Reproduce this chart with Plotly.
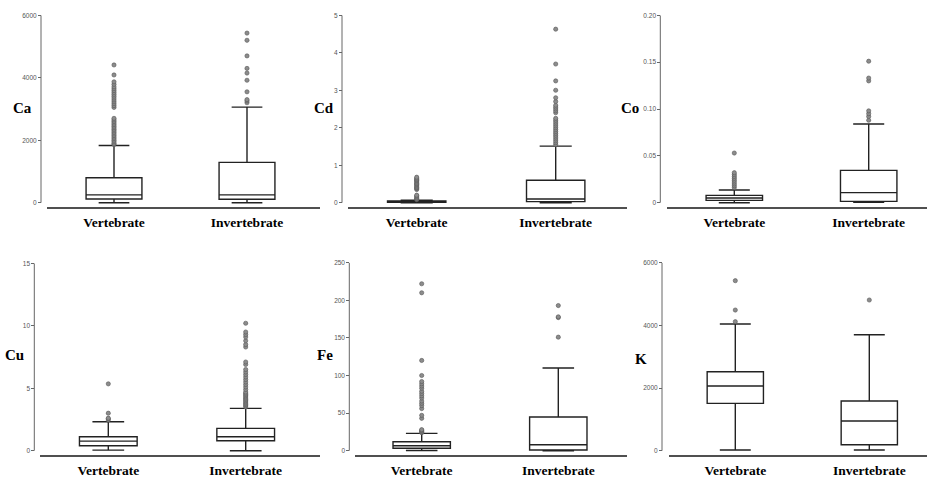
import plotly.graph_objects as go

W, H = 927, 477
groups = ["Vertebrate", "Invertebrate"]
elements = ["Ca", "Cd", "Co", "Cu", "Fe", "K"]

# Box statistics per element: [Vertebrate, Invertebrate]
ca_q1 = [120, 110]; ca_med = [250, 250]; ca_q3 = [800, 1290]; ca_lo = [0, 0]; ca_hi = [1830, 3060]
cd_q1 = [0.01, 0.03]; cd_med = [0.03, 0.10]; cd_q3 = [0.05, 0.60]; cd_lo = [0, 0]; cd_hi = [0.07, 1.51]
co_q1 = [0.0025, 0.0014]; co_med = [0.005, 0.0107]; co_q3 = [0.0078, 0.0345]; co_lo = [0, 0.0005]; co_hi = [0.0136, 0.084]
cu_q1 = [0.40, 0.80]; cu_med = [0.77, 1.12]; cu_q3 = [1.12, 1.79]; cu_lo = [0.05, 0]; cu_hi = [2.32, 3.39]
fe_q1 = [3.2, 0.9]; fe_med = [6.5, 8]; fe_q3 = [12, 44.8]; fe_lo = [0.3, 0]; fe_hi = [23, 110]
k_q1 = [1511, 191]; k_med = [2064, 947]; k_q3 = [2521, 1585]; k_lo = [21, 21]; k_hi = [4043, 3702]

# Outliers
ca_out_v = [1860, 1900, 1950, 2000, 2050, 2100, 2150, 2200, 2250, 2300, 2350, 2400, 2450, 2500,
            2550, 2600, 2650, 2700, 3050, 3110, 3170, 3230, 3290, 3350, 3410, 3470, 3530, 3590,
            3650, 3710, 3790, 3870, 4090, 4410]
ca_out_i = [3200, 3260, 3300, 3550, 3920, 4150, 4300, 4700, 5200, 5430]
cd_out_v = [0.08, 0.10, 0.12, 0.15, 0.18, 0.20, 0.35, 0.38, 0.40, 0.42, 0.45, 0.48, 0.50, 0.52,
            0.55, 0.58, 0.60, 0.62, 0.65, 0.68]
cd_out_i = [1.55, 1.60, 1.65, 1.70, 1.75, 1.80, 1.85, 1.90, 1.95, 2.00, 2.05, 2.10, 2.15, 2.20,
            2.25, 2.40, 2.45, 2.50, 2.55, 2.60, 2.70, 2.80, 3.00, 3.25, 3.70, 4.63]
co_out_v = [0.016, 0.018, 0.020, 0.022, 0.024, 0.026, 0.028, 0.030, 0.032, 0.053]
co_out_i = [0.088, 0.092, 0.095, 0.098, 0.130, 0.133, 0.151]
cu_out_v = [2.45, 2.55, 2.60, 3.00, 5.35]
cu_out_i = [3.5, 3.6, 3.7, 3.8, 3.9, 4.0, 4.1, 4.2, 4.3, 4.4, 4.5, 4.6, 4.7, 4.9, 5.1, 5.3, 5.5,
            5.7, 5.9, 6.1, 6.3, 6.5, 6.9, 7.1, 8.3, 8.5, 8.8, 9.1, 9.3, 9.5, 10.2]
fe_out_v = [24, 25, 26, 27, 28, 43, 47, 56, 60, 63, 66, 70, 73, 76, 79, 83, 86, 89, 92, 100,
            120, 210, 222]
fe_out_i = [151, 177, 178, 193]
k_out_v = [4117, 4489, 5426]
k_out_i = [4809]

# Axis ticks
ca_ticks = [0, 2000, 4000, 6000]; ca_ticktext = ["0", "2000", "4000", "6000"]
cd_ticks = [0, 1, 2, 3, 4, 5]; cd_ticktext = ["0", "1", "2", "3", "4", "5"]
co_ticks = [0, 0.05, 0.10, 0.15, 0.20]; co_ticktext = ["0", "0.05", "0.10", "0.15", "0.20"]
cu_ticks = [0, 5, 10, 15]; cu_ticktext = ["0", "5", "10", "15"]
fe_ticks = [0, 50, 100, 150, 200, 250]; fe_ticktext = ["0", "50", "100", "150", "200", "250"]
k_ticks = [0, 2000, 4000, 6000]; k_ticktext = ["0", "2000", "4000", "6000"]
y_max = [6000, 5, 0.20, 15, 250, 6000]

stats = [
    (ca_q1, ca_med, ca_q3, ca_lo, ca_hi, ca_out_v, ca_out_i, ca_ticks, ca_ticktext),
    (cd_q1, cd_med, cd_q3, cd_lo, cd_hi, cd_out_v, cd_out_i, cd_ticks, cd_ticktext),
    (co_q1, co_med, co_q3, co_lo, co_hi, co_out_v, co_out_i, co_ticks, co_ticktext),
    (cu_q1, cu_med, cu_q3, cu_lo, cu_hi, cu_out_v, cu_out_i, cu_ticks, cu_ticktext),
    (fe_q1, fe_med, fe_q3, fe_lo, fe_hi, fe_out_v, fe_out_i, fe_ticks, fe_ticktext),
    (k_q1, k_med, k_q3, k_lo, k_hi, k_out_v, k_out_i, k_ticks, k_ticktext),
]

# Layout geometry in pixels: y-axis x, x-line start, x-line end, vert centre, invert centre,
# top of y-range, zero pixel, x-line pixel, label x, label y
geom = [
    (41.0, 47, 320, 114.0, 247.0, 15.3, 202.7, 207.3, 22, 108),
    (342.0, 348, 627, 416.7, 555.7, 15.3, 202.7, 207.3, 324, 108),
    (660.3, 667, 927, 734.3, 868.7, 15.3, 202.7, 207.3, 630, 108),
    (34.3, 40, 320, 108.3, 245.7, 263.3, 450.7, 455.0, 15, 355),
    (349.3, 355, 627, 421.7, 558.3, 262.7, 450.7, 455.0, 324.5, 355),
    (662.0, 668.7, 927, 735.3, 869.3, 262.7, 450.7, 455.0, 641, 359),
]

fig = go.Figure()
layout = dict(width=W, height=H, margin=dict(l=0, r=0, t=0, b=0, autoexpand=False),
              plot_bgcolor="white", paper_bgcolor="white", showlegend=False)
shapes = []
annotations = []

for i, (el, st, g, ymax) in enumerate(zip(elements, stats, geom, y_max), start=1):
    q1, med, q3, lo, hi, ov, oi, tv, tt = st
    yx, x0, x1, xv, xi, ptop, pzero, pline, lx, ly = g
    xr = "x" if i == 1 else f"x{i}"
    yr = "y" if i == 1 else f"y{i}"
    ppu = (pzero - ptop) / ymax
    ymin = -(pline - pzero) / ppu
    p = xi - xv
    xrange = [-(xv - x0) / p, 1 + (x1 - xi) / p]

    fig.add_trace(go.Box(
        x=groups, q1=q1, median=med, q3=q3, lowerfence=lo, upperfence=hi,
        boxpoints=False, width=0.42, whiskerwidth=0.55, fillcolor="white",
        line=dict(color="#222222", width=1.4), xaxis=xr, yaxis=yr, hoverinfo="skip"))
    fig.add_trace(go.Scatter(
        x=[groups[0]] * len(ov) + [groups[1]] * len(oi), y=ov + oi, mode="markers",
        marker=dict(symbol="circle", size=4.2, color="#8c8c8c",
                    line=dict(color="#555555", width=0.6)),
        xaxis=xr, yaxis=yr, hoverinfo="skip"))

    xname = "xaxis" if i == 1 else f"xaxis{i}"
    yname = "yaxis" if i == 1 else f"yaxis{i}"
    layout[xname] = dict(
        domain=[x0 / W, min(x1 / W, 1)], anchor=yr, type="category",
        categoryorder="array", categoryarray=groups, range=xrange, automargin=False,
        showline=True, linecolor="#505050", linewidth=1.5, ticks="",
        showgrid=False, zeroline=False, ticklabelstandoff=2,
        tickfont=dict(family="Liberation Serif", size=13.5, color="black", weight="bold"))
    layout[yname] = dict(
        domain=[1 - pline / H, 1 - ptop / H], anchor="free", position=yx / W,
        range=[ymin, ymax], tickvals=tv, ticktext=tt, ticks="outside", ticklen=3,
        tickwidth=1, tickcolor="#666666", showline=False, showgrid=False, zeroline=False,
        automargin=False,
        tickfont=dict(family="Liberation Sans", size=6.5, color="#555555"))
    shapes.append(dict(type="line", xref="paper", yref=yr, x0=yx / W, x1=yx / W,
                       y0=0, y1=ymax, line=dict(color="#666666", width=1)))
    annotations.append(dict(text=el, xref="paper", yref="paper", x=lx / W, y=1 - ly / H,
                            xanchor="center", yanchor="middle", showarrow=False,
                            font=dict(family="Liberation Serif", size=15, color="black",
                                      weight="bold")))

layout["shapes"] = shapes
layout["annotations"] = annotations
fig.update_layout(**layout)
fig.write_html("out.html", config={"displayModeBar": False},
               post_script="document.body.style.margin='0';document.body.style.overflow='hidden';")
